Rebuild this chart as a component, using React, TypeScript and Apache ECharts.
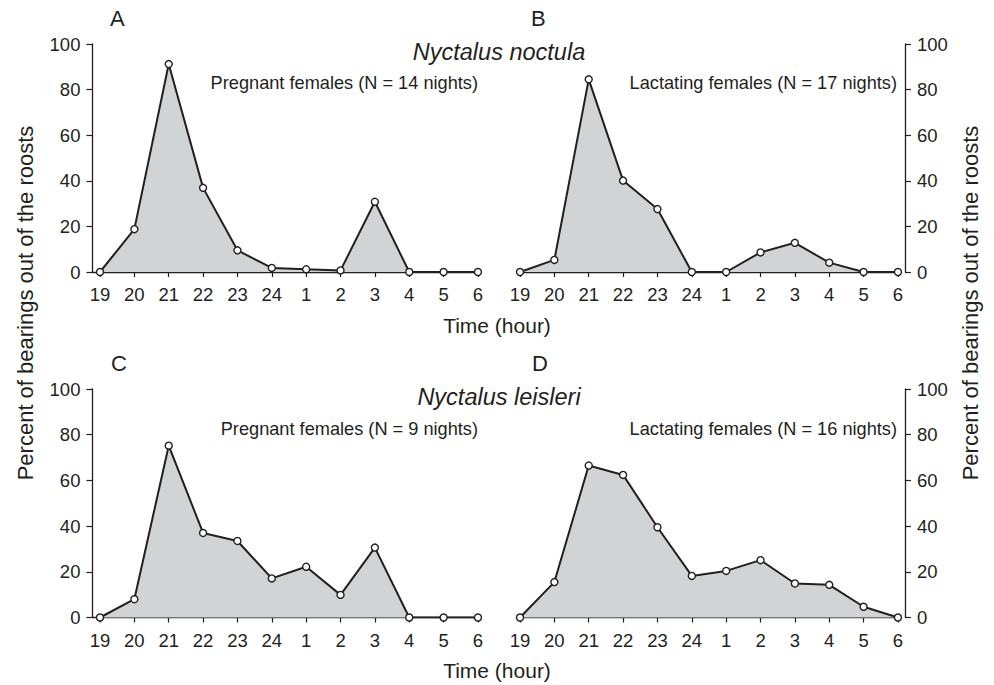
import React, { useEffect, useRef } from "react";
import * as echarts from "echarts";

const hours = ["19", "20", "21", "22", "23", "24", "1", "2", "3", "4", "5", "6"];
const yTicks = [0, 20, 40, 60, 80, 100];

const noctulaPregnant = [0, 18.8, 91.2, 36.9, 9.5, 1.8, 1.2, 0.7, 30.8, 0, 0, 0];
const noctulaLactating = [0, 5.3, 84.5, 40.1, 27.6, 0, 0, 8.6, 12.8, 4.1, 0, 0];
const leisleriPregnant = [0, 8.0, 75.2, 37.0, 33.5, 17.1, 22.2, 9.9, 30.6, 0, 0, 0];
const leisleriLactating = [0, 15.5, 66.5, 62.4, 39.5, 18.2, 20.4, 25.1, 14.9, 14.3, 4.7, 0];

const panelLetters = ["A", "B", "C", "D"];
const speciesNames = ["Nyctalus noctula", "Nyctalus leisleri"];
const groupLabels = [
  "Pregnant females (N = 14 nights)",
  "Lactating females (N = 17 nights)",
  "Pregnant females (N = 9 nights)",
  "Lactating females (N = 16 nights)",
];
const xTitle = "Time (hour)";
const yTitle = "Percent of bearings out of the roosts";

const INK = "#231f20";
const FILL = "#d1d3d4";
const FONT = "'Liberation Sans', Arial, Helvetica, sans-serif";

export default function App() {
  const ref = useRef<HTMLDivElement>(null);

  useEffect(() => {
    if (!ref.current) return;
    const chart = echarts.init(ref.current, undefined, { renderer: "svg" });
    const allSeries = [noctulaPregnant, noctulaLactating, leisleriPregnant, leisleriLactating];
    const step = 34.36;
    const grids = [
      { left: 100 - 0.22 * step, top: 44, width: 11.22 * step, height: 228 },
      { left: 520, top: 44, width: 11 * step, height: 228 },
      { left: 100 - 0.22 * step, top: 389, width: 11.22 * step, height: 228.5 },
      { left: 520, top: 389, width: 11 * step, height: 228.5 },
    ];
    const xAxes = grids.map((g, i) => {
      const isLeft = i % 2 === 0;
      return {
        type: "value",
        gridIndex: i,
        min: isLeft ? -0.22 : 0,
        max: 11,
        axisLine: { show: true, onZero: false, lineStyle: { color: INK, width: 1.3 } },
        axisTick: {
          show: true,
          length: 5,
          customValues: hours.map((_, k) => k),
          lineStyle: { color: INK, width: 1.2 },
        },
        axisLabel: {
          show: true,
          customValues: hours.map((_, k) => k),
          formatter: (v: number) => hours[Math.round(v)] ?? "",
          margin: 13,
          color: INK,
          fontSize: 18.5,
          fontFamily: FONT,
        },
        splitLine: { show: false },
      };
    });
    const yAxes = grids.map((g, i) => {
      const isLeft = i % 2 === 0;
      return {
        type: "value",
        gridIndex: i,
        position: isLeft ? "left" : "right",
        offset: isLeft ? 0 : 7,
        min: 0,
        max: 100,
        interval: 20,
        axisLine: { show: true, onZero: false, lineStyle: { color: INK, width: 1.3 } },
        axisTick: { show: true, length: 6, lineStyle: { color: INK, width: 1.2 } },
        axisLabel: {
          show: true,
          margin: 12,
          color: INK,
          fontSize: 18.5,
          fontFamily: FONT,
        },
        splitLine: { show: false },
      };
    });
    const series = allSeries.map((vals, i) => ({
      type: "line",
      xAxisIndex: i,
      yAxisIndex: i,
      data: vals.map((v, k) => [k, v]),
      symbol: "circle",
      symbolSize: 7,
      showSymbol: true,
      lineStyle: { color: INK, width: 2 },
      itemStyle: { color: "#ffffff", borderColor: INK, borderWidth: 1.4 },
      areaStyle: { color: FILL, opacity: 1, origin: "start" },
      z: 3,
    }));

    const letterPos = [
      [110, 18],
      [531, 18],
      [111, 363],
      [532, 363],
    ];
    const graphics: any[] = [];
    panelLetters.forEach((t, i) => {
      graphics.push({
        type: "text",
        x: letterPos[i][0],
        y: letterPos[i][1],
        style: { text: t, font: `22px ${FONT}`, fill: INK, textAlign: "left", textVerticalAlign: "middle" },
      });
    });
    [52, 397].forEach((y, i) => {
      graphics.push({
        type: "text",
        x: 499,
        y,
        style: {
          text: speciesNames[i],
          font: `italic 23.5px ${FONT}`,
          fill: INK,
          textAlign: "center",
          textVerticalAlign: "middle",
        },
      });
    });
    const labelPos = [
      [478, 83],
      [897, 83],
      [478, 429],
      [897, 429],
    ];
    groupLabels.forEach((t, i) => {
      graphics.push({
        type: "text",
        x: labelPos[i][0],
        y: labelPos[i][1],
        style: { text: t, font: `18.2px ${FONT}`, fill: INK, textAlign: "right", textVerticalAlign: "middle" },
      });
    });
    [325, 670].forEach((y) => {
      graphics.push({
        type: "text",
        x: 497,
        y,
        style: { text: xTitle, font: `21px ${FONT}`, fill: INK, textAlign: "center", textVerticalAlign: "middle" },
      });
    });
    [25, 970].forEach((x) => {
      graphics.push({
        type: "text",
        x,
        y: 303,
        rotation: Math.PI / 2,
        style: { text: yTitle, font: `22px ${FONT}`, fill: INK, textAlign: "center", textVerticalAlign: "middle" },
      });
    });

    chart.setOption({
      animation: false,
      backgroundColor: "#ffffff",
      grid: grids,
      xAxis: xAxes,
      yAxis: yAxes,
      series,
      graphic: graphics,
    });
    return () => chart.dispose();
  }, []);

  return <div ref={ref} style={{ width: 994, height: 685, position: "absolute", left: 0, top: 0 }} />;
}
